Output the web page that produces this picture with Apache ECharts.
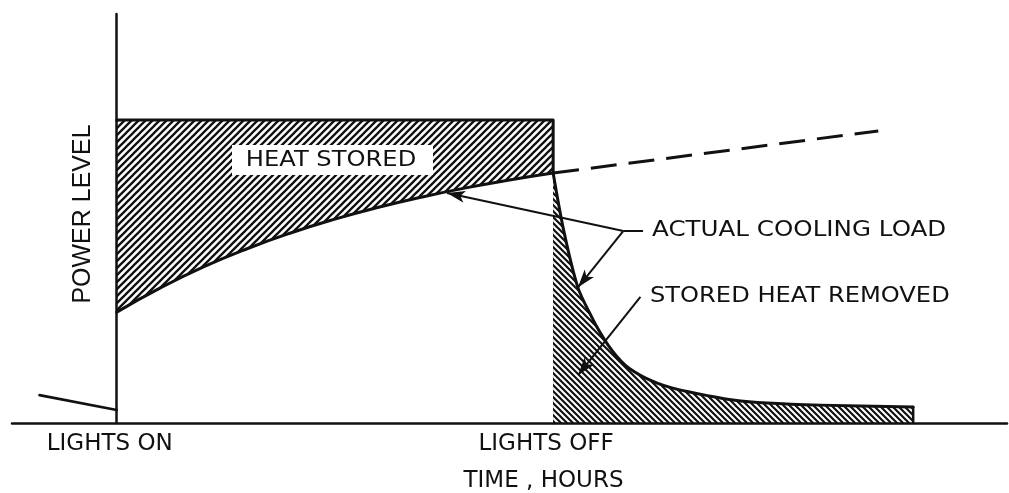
<!DOCTYPE html>
<html><head><meta charset="utf-8">
<script src="https://cdn.jsdelivr.net/npm/echarts@6/dist/echarts.min.js"></script>
<style>html,body{margin:0;padding:0;background:#fff}#c{width:1009px;height:493px}</style>
</head><body><div id="c"></div>
<script>
// ---- data (x: hours from lights on, y: power level, relative units) ----
const tickValues = [0, 10];
const tickLabels = ['LIGHTS ON', 'LIGHTS OFF'];
const lightsX = [0, 10, 10];
const lightsY = [100, 100, 0];
const loadX = [0, 1, 2, 3, 4, 5, 6, 7, 8, 9, 10];
const loadY = [36.6, 44.6, 51.6, 57.6, 62.8, 67.3, 71.2, 74.6, 77.6, 80.2, 82.5];
const preX = [-1.77, 0];
const preY = [9.2, 4.3];
const dashX = [10, 17.45];
const dashY = [82.5, 96.4];
const decayX = [10, 10.25, 10.57, 10.89, 11.07, 11.26, 11.45, 11.65, 11.87, 12.11, 12.4, 12.72, 13.1, 13.48, 14.12, 14.9, 16.12, 18.25];
const decayY = [82.5, 63.0, 44.6, 34.8, 30.0, 25.7, 22.1, 19.1, 16.8, 14.9, 13.1, 11.6, 10.3, 9.2, 7.6, 6.6, 5.9, 5.3];
// annotation arrows: [x1, y1, x2, y2, arrowhead]
const arrows = [
  [12.06, 63.4, 11.61, 63.4, 0],
  [11.61, 63.4, 7.57, 75.9, 1],
  [11.61, 63.4, 10.57, 44.8, 1],
  [12.0, 41.6, 10.57, 15.8, 1]
];
const labelTexts = ['HEAT STORED', 'ACTUAL COOLING LOAD', 'STORED HEAT REMOVED'];
const yAxisTitle = 'POWER LEVEL';

function pairs(xs, ys) { return xs.map((x, i) => [x, ys[i]]); }
function hatch(dir, s, w) {
  const c = document.createElement('canvas');
  c.width = c.height = s;
  const g = c.getContext('2d');
  g.fillStyle = '#fff'; g.fillRect(0, 0, s, s);
  g.strokeStyle = '#111'; g.lineWidth = w; g.beginPath();
  if (dir > 0) {
    g.moveTo(-1, s + 1); g.lineTo(s + 1, -1);
    g.moveTo(-1, 1); g.lineTo(1, -1);
    g.moveTo(s - 1, s + 1); g.lineTo(s + 1, s - 1);
  } else {
    g.moveTo(-1, -1); g.lineTo(s + 1, s + 1);
    g.moveTo(s - 1, -1); g.lineTo(s + 1, 1);
    g.moveTo(-1, s - 1); g.lineTo(1, s + 1);
  }
  g.stroke();
  return c;
}
const INK = '#111';
const lettering = 'DejaVu Sans';
const chart = echarts.init(document.getElementById('c'), null, { renderer: 'canvas' });
const blackLine = (w) => ({ color: INK, width: w, cap: 'round', join: 'round' });

chart.setOption({
  animation: false,
  backgroundColor: '#fff',
  grid: { left: 12, right: 2, top: 14, bottom: 70, containLabel: false, outerBoundsMode: 'none' },
  xAxis: {
    type: 'value', min: -2.4, max: 20.4, z: 10,
    axisLine: { onZero: true, lineStyle: { color: INK, width: 2.5 } },
    axisTick: { show: false },
    splitLine: { show: false },
    axisLabel: {
      customValues: tickValues,
      formatter: (v) => tickLabels[tickValues.indexOf(v)] || '',
      fontFamily: lettering, fontSize: 23, color: INK,
      margin: 10, padding: [0, 14, 0, 0]
    },
    name: 'TIME , HOURS', nameLocation: 'middle', nameGap: 47,
    nameTextStyle: { fontFamily: lettering, fontSize: 23, color: INK, padding: [0, 0, 0, 68] }
  },
  yAxis: {
    type: 'value', min: 0, max: 135, z: 10,
    axisLine: { onZero: true, lineStyle: { color: INK, width: 2.5 } },
    axisTick: { show: false }, axisLabel: { show: false }, splitLine: { show: false }
  },
  series: [
    // lights power (rectangle), hatched = heat stored above the cooling load
    { name: 'lights', type: 'line', symbol: 'none', z: 6, data: pairs(lightsX, lightsY),
      lineStyle: blackLine(3),
      areaStyle: { opacity: 1, origin: 'start', color: { image: hatch(1, 7, 2.3), repeat: 'repeat' } } },
    // cooling load (area under it is unhatched)
    { name: 'load', type: 'line', smooth: true, symbol: 'none', z: 7,
      data: pairs(loadX, loadY), lineStyle: blackLine(3),
      areaStyle: { opacity: 1, origin: 'start', color: '#fff' } },
    { name: 'before', type: 'line', symbol: 'none', z: 8, data: pairs(preX, preY), lineStyle: blackLine(2.6),
      markLine: {
        z: 20, silent: true, animation: false, symbolSize: [9, 18],
        lineStyle: { color: INK, width: 2, type: 'solid' },
        label: { show: false }, emphasis: { disabled: true },
        data: arrows.map(a => [
          { coord: [a[0], a[1]], symbol: 'none' },
          { coord: [a[2], a[3]], symbol: a[4] ? 'arrow' : 'none' }
        ])
      } },
    { name: 'extension', type: 'line', symbol: 'none', z: 8, data: pairs(dashX, dashY),
      lineStyle: { color: INK, width: 3, type: [26, 12] } },
    { name: 'decay', type: 'line', smooth: 0.3, symbol: 'none', z: 8, data: pairs(decayX, decayY),
      lineStyle: blackLine(3),
      areaStyle: { opacity: 1, origin: 'start', color: { image: hatch(-1, 6, 2.2), repeat: 'repeat' } } },
    { name: 'decay end', type: 'line', symbol: 'none', z: 8,
      data: [[decayX[decayX.length - 1], decayY[decayY.length - 1]], [decayX[decayX.length - 1], 0]],
      lineStyle: blackLine(2.5) }
  ],
  graphic: [
    { type: 'text', x: 83, y: 214, rotation: Math.PI / 2, z: 51,
      style: { text: yAxisTitle, fontFamily: 'Liberation Sans', fontSize: 25, fill: INK, align: 'center', verticalAlign: 'middle' } },
    { type: 'rect', shape: { x: 232, y: 145, width: 201, height: 30 }, style: { fill: '#fff' }, z: 50 },
    { type: 'text', x: 331, y: 160, scaleX: 1.1, z: 51,
      style: { text: labelTexts[0], fontFamily: lettering, fontSize: 22, fill: INK, align: 'center', verticalAlign: 'middle' } },
    { type: 'text', x: 652, y: 231, scaleX: 1.17, z: 51,
      style: { text: labelTexts[1], fontFamily: lettering, fontSize: 21, fill: INK, align: 'left', verticalAlign: 'middle' } },
    { type: 'text', x: 650, y: 297, scaleX: 1.15, z: 51,
      style: { text: labelTexts[2], fontFamily: lettering, fontSize: 21, fill: INK, align: 'left', verticalAlign: 'middle' } }
  ]
});
</script></body></html>
